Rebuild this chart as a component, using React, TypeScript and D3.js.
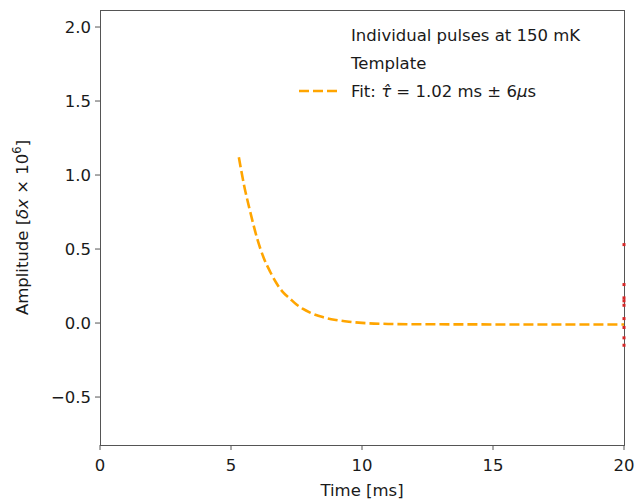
import React from "react";
import * as d3 from "d3";

const fitTime = [5.3, 5.5, 5.75, 6.0, 6.25, 6.5, 6.75, 7.0, 7.25, 7.5, 7.75, 8.0, 8.5, 9.0, 9.5, 10.0, 11.0, 12.0, 14.0, 16.0, 18.0, 20.0];
const fitAmp = [1.12, 0.93, 0.74, 0.57, 0.44, 0.345, 0.265, 0.205, 0.165, 0.125, 0.095, 0.072, 0.04, 0.021, 0.009, 0.001, -0.006, -0.008, -0.009, -0.01, -0.01, -0.01];

const pulseTime = [20, 20, 20, 20, 20, 20, 20, 20, 20];
const pulseAmp = [0.53, 0.26, 0.17, 0.15, 0.12, 0.03, -0.03, -0.1, -0.15];

const xTicks = [0, 5, 10, 15, 20];
const yTicks = [-0.5, 0.0, 0.5, 1.0, 1.5, 2.0];

const legendLabels = ["Individual pulses at 150 mK", "Template", "Fit: "];

const W = 639;
const H = 501;
const L = 100;
const R = 624;
const T = 10;
const B = 445;

export default function App() {
  const x = d3.scaleLinear().domain([0, 20]).range([L, R]);
  const y = d3.scaleLinear().domain([-0.824, 2.115]).range([B, T]);
  const line = d3
    .line<number>()
    .curve(d3.curveMonotoneX)
    .x((_, i) => x(fitTime[i]))
    .y((d) => y(d));
  const font = "DejaVu Sans, sans-serif";
  const fs = 16.5;
  const axisColor = "#555";
  const textColor = "#1a1a1a";
  return (
    <svg
      width={W}
      height={H}
      style={{ position: "absolute", left: 0, top: 0 }}
      fontFamily={font}
    >
      <rect width={W} height={H} fill="white" />
      <defs>
        <clipPath id="plotclip">
          <rect x={L} y={T} width={R - L + 4} height={B - T} />
        </clipPath>
      </defs>
      <path
        d={line(fitAmp) || ""}
        fill="none"
        stroke="#FFA500"
        strokeWidth={2.6}
        strokeDasharray="10,4"
        clipPath="url(#plotclip)"
      />
      {/* spines */}
      <rect
        x={L}
        y={T}
        width={R - L}
        height={B - T}
        fill="none"
        stroke={axisColor}
        strokeWidth={1}
        shapeRendering="crispEdges"
      />
      {pulseAmp.map((v, i) => (
        <rect
          key={i}
          x={x(pulseTime[i]) - 1.5}
          y={y(v) - 1.5}
          width={3}
          height={3}
          fill="#d62728"
        />
      ))}
      {xTicks.map((t) => (
        <g key={t}>
          <line x1={x(t)} x2={x(t)} y1={B} y2={B + 5} stroke={axisColor} />
          <text x={x(t)} y={B + 26} textAnchor="middle" fontSize={fs} fill={textColor}>
            {t}
          </text>
        </g>
      ))}
      {yTicks.map((t) => (
        <g key={t}>
          <line x1={L - 5} x2={L} y1={y(t)} y2={y(t)} stroke={axisColor} />
          <text x={L - 9} y={y(t) + 6} textAnchor="end" fontSize={fs} fill={textColor}>
            {t < 0 ? "\u2212" + Math.abs(t).toFixed(1) : t.toFixed(1)}
          </text>
        </g>
      ))}
      <text x={(L + R) / 2} y={496} textAnchor="middle" fontSize={fs} fill={textColor}>
        Time [ms]
      </text>
      <text
        transform={`translate(28,${(T + B) / 2}) rotate(-90)`}
        textAnchor="middle"
        fontSize={fs}
        fill={textColor}
      >
        Amplitude [
        <tspan fontStyle="italic">δx</tspan> × 10
        <tspan baselineShift="super" fontSize={fs * 0.7}>6</tspan>]
      </text>
      {/* legend */}
      <text x={351} y={41} fontSize={fs} fill={textColor}>
        {legendLabels[0]}
      </text>
      <text x={351} y={69} fontSize={fs} fill={textColor}>
        {legendLabels[1]}
      </text>
      <line
        x1={299}
        x2={338}
        y1={91}
        y2={91}
        stroke="#FFA500"
        strokeWidth={2.6}
        strokeDasharray="10,4"
      />
      <text x={351} y={97} fontSize={fs} fill={textColor}>
        {legendLabels[2]}
        <tspan fontStyle="italic">τ̂</tspan> = 1.02 ms ± 6<tspan fontStyle="italic">μ</tspan>s
      </text>
    </svg>
  );
}
